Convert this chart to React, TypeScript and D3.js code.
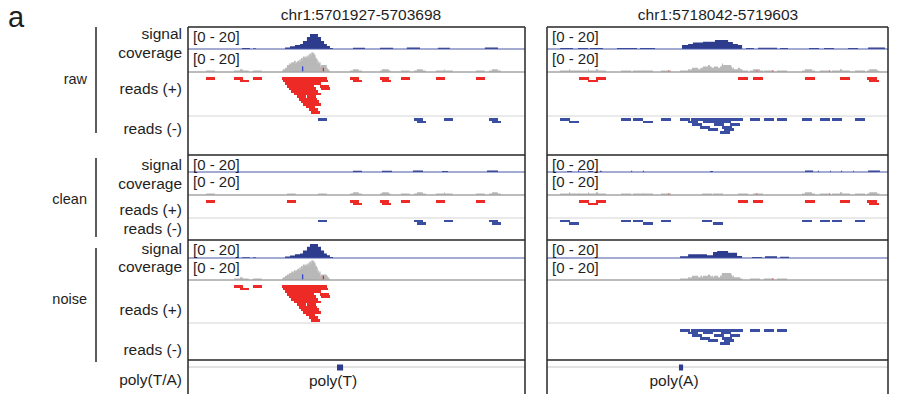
import React from "react";
import * as d3 from "d3";

// ---- data (positions are bp offsets from the window start) ----
const READ_LEN = 46;

const regions = [
  { chrom: "chr1", start: 5701927, end: 5703698 },
  { chrom: "chr1", start: 5718042, end: 5719603 },
];

const sectionNames = ["raw", "clean", "noise"];
const trackNames = ["signal", "coverage", "reads (+)", "reads (-)"];
const polyTrackName = "poly(T/A)";
const rangeLabel = "[0 - 20]";

// signal: [from, to, value]
const leftSignalRaw = [
  [284, 326, 0.8], [342, 357, 0.6],
  [510, 536, 1.4], [536, 562, 2.5], [562, 589, 3.6], [589, 604, 4.5], [604, 625, 7.3],
  [625, 641, 11], [641, 683, 13.6], [683, 699, 11], [699, 715, 7.3], [715, 730, 4.5],
  [730, 746, 2.7], [746, 762, 0.9],
  [867, 930, 1.2], [1009, 1078, 1.2], [1150, 1219, 1.3], [1313, 1376, 1.1], [1560, 1629, 1.3],
];
const leftSignalClean = [
  [867, 914, 1.2], [1019, 1072, 1.2], [1182, 1235, 1.3], [1335, 1366, 1.0], [1571, 1629, 1.3],
];
const leftSignalNoise = [
  [284, 326, 0.7], [342, 357, 0.6],
  [510, 536, 1.3], [536, 562, 2.3], [562, 589, 3.3], [589, 604, 4.2], [604, 625, 6.8],
  [625, 641, 10.2], [641, 683, 12.7], [683, 699, 10.2], [699, 715, 6.8], [715, 730, 4.2],
  [730, 746, 2.5], [746, 762, 0.8],
];
const rightSignalRaw = [
  [60, 119, 0.9], [142, 188, 0.9], [197, 256, 1.0], [320, 412, 0.9], [426, 495, 0.9],
  [618, 646, 3.6], [646, 668, 4.5], [668, 714, 5.8], [714, 769, 6.6], [769, 829, 8.2],
  [829, 851, 6.4], [851, 874, 4.5], [874, 893, 3.6],
  [911, 947, 1.0], [966, 1053, 1.2], [1067, 1103, 0.9], [1199, 1245, 0.9], [1268, 1314, 0.9],
  [1378, 1424, 0.9], [1470, 1547, 1.3],
];
const rightSignalClean = [
  [92, 114, 1.0], [142, 147, 1.5], [188, 211, 1.0], [243, 250, 1.2], [385, 390, 1.2],
  [439, 444, 1.2], [746, 760, 1.0], [1181, 1218, 1.4], [1240, 1245, 1.2], [1296, 1300, 1.2],
  [1346, 1351, 1.2], [1401, 1405, 1.2], [1470, 1524, 1.4],
];
const rightSignalNoise = [
  [609, 646, 1.5], [646, 732, 3.3], [732, 760, 2.4], [760, 779, 5.5], [779, 829, 6.4],
  [829, 870, 4.8], [870, 893, 1.8], [938, 984, 0.9], [998, 1053, 1.5], [1067, 1108, 1.1],
];

// reads: [start, packing row]
const leftPlusClean = [
  [95, 0], [520, 0], [851, 0], [867, 1], [1009, 0], [1019, 1], [1119, 0], [1303, 0], [1513, 0],
];
const leftPlusNoise = [
  [242, 0], [273, 1], [342, 0],
  [494, 0], [541, 0], [589, 0], [636, 0], [683, 0],
  [499, 1], [547, 1], [594, 1], [641, 1], [688, 1],
  [510, 2], [557, 2], [604, 2], [651, 2],
  [520, 3], [568, 3], [615, 3], [694, 3],
  [531, 4], [578, 4], [625, 4], [699, 4],
  [541, 5], [589, 5], [636, 5],
  [557, 6], [604, 6], [651, 6],
  [573, 7], [625, 7],
  [583, 8], [631, 8],
  [594, 9], [641, 9],
  [604, 10], [651, 10],
  [620, 11], [636, 12], [646, 13],
];
const leftMinusClean = [[683, 0], [1188, 0], [1203, 1], [1345, 0], [1582, 0], [1598, 1]];
const leftMinusNoise: number[][] = [];

const rightPlusClean = [
  [146, 0], [188, 1], [224, 0], [874, 0], [943, 0], [1181, 0], [1341, 0], [1465, 0], [1475, 1],
];
const rightPlusNoise: number[][] = [];
const rightMinusClean = [
  [60, 0], [101, 1], [339, 0], [394, 0], [439, 1], [522, 0], [710, 0], [760, 1],
  [1167, 0], [1250, 0], [1305, 0], [1410, 0],
];
const rightMinusNoise = [
  [609, 0], [657, 0], [705, 0], [753, 0], [801, 0], [849, 0], [929, 0], [993, 0], [1053, 0],
  [646, 1], [714, 1], [797, 1],
  [664, 2], [764, 2], [838, 2],
  [700, 3], [801, 3],
  [737, 4], [810, 4],
  [792, 5],
];

// mismatch columns in coverage: [pos, colour, subset, mismatching reads]
const leftMismatch: [number, string, string, number][] = [
  [599, "#3347c8", "noise", 4], [708, "#e8261f", "noise", 3],
];
const rightMismatch: [number, string, string, number][] = [
  [554, "#e8261f", "clean", 1], [957, "#e8261f", "clean", 1],
  [1030, "#e8261f", "noise", 1], [1291, "#e8261f", "clean", 1],
];

// poly(T/A) features: [from, to, label]
const leftPoly: [number, number, string] = [783, 815, "poly(T)"];
const rightPoly: [number, number, string] = [604, 623, "poly(A)"];

// ---- layout ----
const W = 919;
const H = 394;
const FONT = "'Liberation Sans', Arial, Helvetica, sans-serif";
const PANEL_TOP = 27;
const ROW_STEP = 2.6;
const ROW_H = 2.8;

const panels = [
  {
    region: regions[0], x0: 188, x1: 525, titleX: 361,
    signal: { raw: leftSignalRaw, clean: leftSignalClean, noise: leftSignalNoise },
    plus: { clean: leftPlusClean, noise: leftPlusNoise },
    minus: { clean: leftMinusClean, noise: leftMinusNoise },
    mismatch: leftMismatch, poly: leftPoly,
  },
  {
    region: regions[1], x0: 547, x1: 888, titleX: 718,
    signal: { raw: rightSignalRaw, clean: rightSignalClean, noise: rightSignalNoise },
    plus: { clean: rightPlusClean, noise: rightPlusNoise },
    minus: { clean: rightMinusClean, noise: rightMinusNoise },
    mismatch: rightMismatch, poly: rightPoly,
  },
];

const sections = [
  { top: 27, sig: 49, cov: 72, sep: 116, bottom: 155, plusPad: 5, minusPad: 2,
    nameY: 84, bar: [27, 133], labelY: [39, 58, 94, 134] },
  { top: 155, sig: 172, cov: 195, sep: 218, bottom: 240, plusPad: 5, minusPad: 1.5,
    nameY: 204, bar: [158, 237], labelY: [170, 189, 215, 234] },
  { top: 240, sig: 258, cov: 280, sep: 323, bottom: 360, plusPad: 5, minusPad: 6,
    nameY: 304, bar: [248, 362], labelY: [254, 272, 315, 355] },
];
const POLY_LINE = 367;

const COL = {
  signal: "#2e3c8e",
  sigLine: "#4858a8",
  coverage: "#b8b8b8",
  covLine: "#a6a6a6",
  plus: "#ee2a26",
  minus: "#3a4fa2",
  sep: "#d4d4d4",
  frame: "#262626",
  text: "#1e1e1e",
};

function stepValues(span: number, segs: number[][]) {
  const v = new Array(span + 1).fill(0);
  segs.forEach(([a, b, val]) => {
    for (let i = Math.max(0, a); i < Math.min(span + 1, b); i++) v[i] += val;
  });
  return v;
}

function depthOf(span: number, reads: number[][]) {
  const v = new Array(span + 1).fill(0);
  reads.forEach(([s]) => {
    for (let i = Math.max(0, s); i < Math.min(span + 1, s + READ_LEN); i++) v[i] += 1;
  });
  return v;
}

function Panel({ p, idx }: { p: any; idx: number }) {
  const span = p.region.end - p.region.start;
  const x = d3.scaleLinear().domain([0, span]).range([p.x0, p.x1]);
  const clipId = `clip-${idx}`;
  const keys = ["raw", "clean", "noise"];

  const pick = (strand: "plus" | "minus", key: string) =>
    key === "raw" ? [...p[strand].clean, ...p[strand].noise] : p[strand][key];

  return (
    <g>
      <defs>
        <clipPath id={clipId}>
          <rect x={p.x0} y={PANEL_TOP} width={p.x1 - p.x0} height={H - PANEL_TOP} />
        </clipPath>
      </defs>
      <g clipPath={`url(#${clipId})`}>
        {sections.map((s, si) => {
          const key = keys[si];
          const ySig = d3.scaleLinear().domain([0, 20]).range([s.sig, s.sig - 22]);
          const yCov = d3.scaleLinear().domain([0, 20]).range([s.cov, s.cov - 28]);
          const sig = stepValues(span, p.signal[key]);
          const plus = pick("plus", key);
          const minus = pick("minus", key);
          const depth = depthOf(span, [...plus, ...minus]);
          const sigArea = d3.area<number>()
            .x((_, i) => x(i)).y0(s.sig).y1((d) => ySig(d)).curve(d3.curveStepAfter);
          const covArea = d3.area<number>()
            .x((_, i) => x(i)).y0(s.cov).y1((d) => yCov(d)).curve(d3.curveStepAfter);
          const mism = p.mismatch.filter((m: any) => key === "raw" || m[2] === key);
          const bw = x(READ_LEN) - x(0);
          return (
            <g key={key}>
              <path d={sigArea(sig) || ""} fill={COL.signal} />
              <line x1={p.x0} x2={p.x1} y1={s.sig} y2={s.sig} stroke={COL.sigLine} strokeWidth={1.2} />
              <path d={covArea(depth) || ""} fill={COL.coverage} />
              {mism.map((m: any, i: number) => {
                const n = Math.min(m[3], depth[m[0]]);
                return (
                  <rect key={i} x={x(m[0])} width={1.3} y={yCov(n)}
                    height={s.cov - yCov(n)} fill={m[1]} />
                );
              })}
              <line x1={p.x0} x2={p.x1} y1={s.cov} y2={s.cov} stroke={COL.covLine} strokeWidth={1.6} />
              <g shapeRendering="crispEdges">
                {plus.map((r: number[], i: number) => (
                  <rect key={"p" + i} x={x(r[0])} width={bw} y={s.cov + s.plusPad + r[1] * ROW_STEP}
                    height={ROW_H} fill={COL.plus} />
                ))}
              </g>
              <line x1={p.x0} x2={p.x1} y1={s.sep} y2={s.sep} stroke={COL.sep} strokeWidth={1} />
              <g shapeRendering="crispEdges">
                {minus.map((r: number[], i: number) => (
                  <rect key={"m" + i} x={x(r[0])} width={bw} y={s.sep + s.minusPad + r[1] * ROW_STEP}
                    height={ROW_H} fill={COL.minus} />
                ))}
              </g>
              <text x={p.x0 + 5} y={s.top + 14.5} fontSize={15} fill={COL.text}>{rangeLabel}</text>
              <text x={p.x0 + 5} y={s.sig + 14.5} fontSize={15} fill={COL.text}>{rangeLabel}</text>
              <line x1={p.x0} x2={p.x1} y1={s.bottom} y2={s.bottom} stroke={COL.frame} strokeWidth={1.5} />
            </g>
          );
        })}
        <line x1={p.x0} x2={p.x1} y1={POLY_LINE} y2={POLY_LINE} stroke="#d8d8d8" strokeWidth={1.5} />
        <rect x={x(p.poly[0])} width={x(p.poly[1]) - x(p.poly[0])} y={364.5} height={6} fill={COL.signal} />
      </g>
      <text x={(x(p.poly[0]) + x(p.poly[1])) / 2 - 7} y={386} fontSize={15.5} textAnchor="middle" fill={COL.text}>
        {p.poly[2]}
      </text>
      <line x1={p.x0} x2={p.x1} y1={PANEL_TOP} y2={PANEL_TOP} stroke={COL.frame} strokeWidth={1.5} />
      <line x1={p.x0} x2={p.x0} y1={PANEL_TOP} y2={H} stroke={COL.frame} strokeWidth={1.5} />
      <line x1={p.x1} x2={p.x1} y1={PANEL_TOP} y2={H} stroke={COL.frame} strokeWidth={1.5} />
      <text x={p.titleX} y={20} fontSize={15.5} textAnchor="middle" fill={COL.text}>
        {`${p.region.chrom}:${p.region.start}-${p.region.end}`}
      </text>
    </g>
  );
}

export default function App() {
  return (
    <svg width={W} height={H} style={{ position: "fixed", left: 0, top: 0, background: "#fff" }}
      fontFamily={FONT}>
      <rect width={W} height={H} fill="#fff" />
      <text x={8} y={27} fontSize={29} fill={COL.text}>a</text>
      {sections.map((s, si) => (
        <g key={si}>
          <text x={87} y={s.nameY} fontSize={14.5} textAnchor="end" fill={COL.text}>{sectionNames[si]}</text>
          <line x1={96} x2={96} y1={s.bar[0]} y2={s.bar[1]} stroke={COL.frame} strokeWidth={1.5} />
          {trackNames.map((t, ti) => (
            <text key={t} x={182} y={s.labelY[ti]} fontSize={15.5} textAnchor="end" fill={COL.text}>{t}</text>
          ))}
        </g>
      ))}
      <text x={182} y={385} fontSize={15.5} textAnchor="end" fill={COL.text}>{polyTrackName}</text>
      {panels.map((p, i) => <Panel key={i} p={p} idx={i} />)}
    </svg>
  );
}
